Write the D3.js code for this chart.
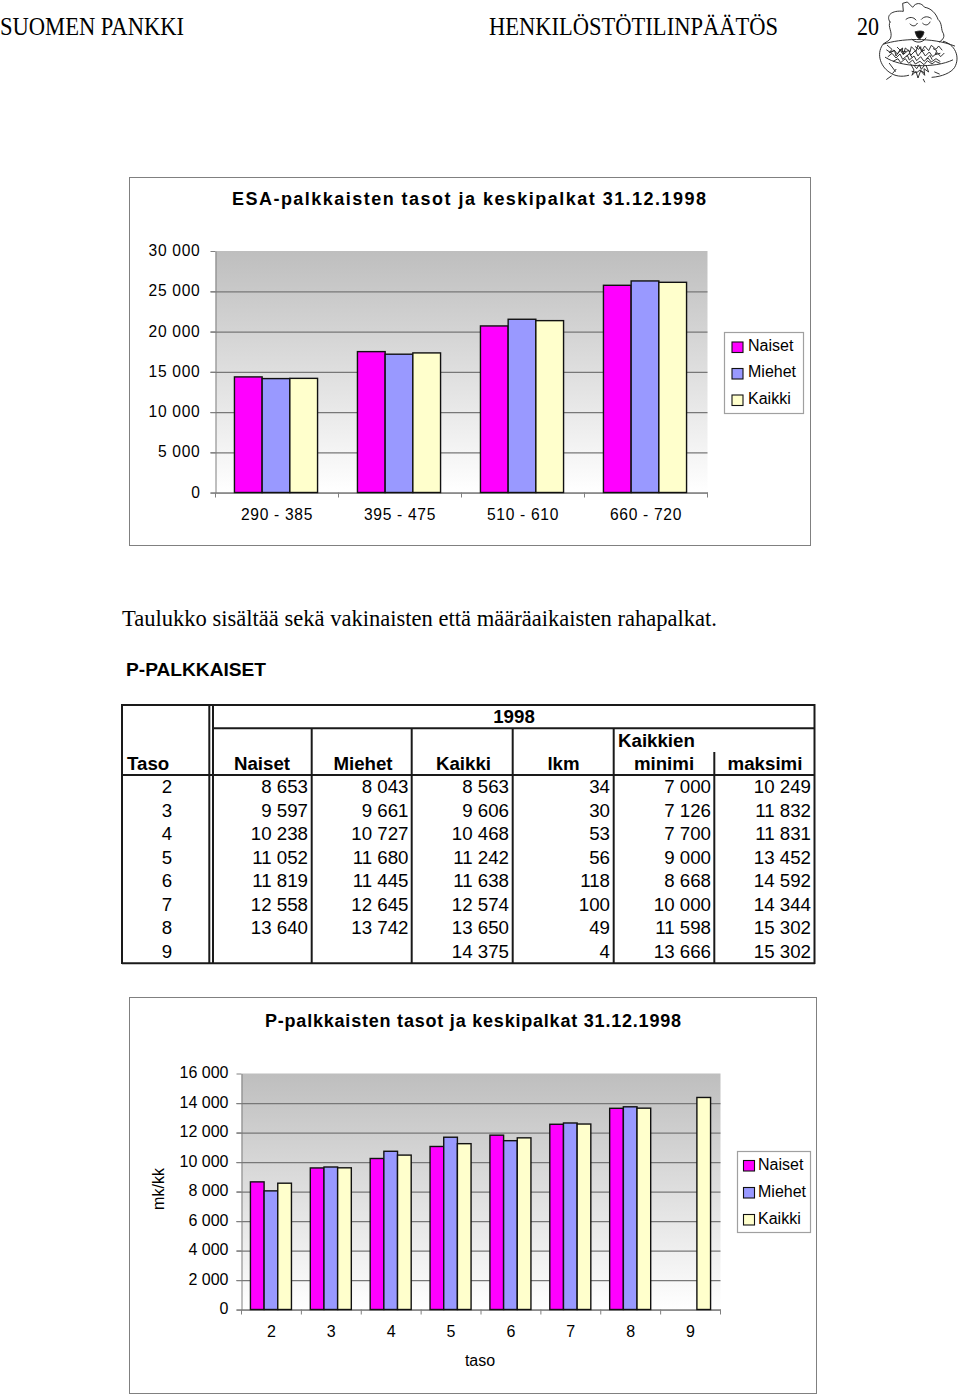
<!DOCTYPE html>
<html><head><meta charset="utf-8">
<script src="https://cdn.jsdelivr.net/npm/d3@7"></script>
<style>
html,body{margin:0;padding:0;background:#fff}
svg{display:block}
text{font-family:"Liberation Sans",Arial,sans-serif;fill:#000}
.serif{font-family:"Liberation Serif","Times New Roman",serif}
</style></head><body>
<svg id="page" width="960" height="1397"></svg>
<script>
// ---- Data: top chart (ESA-palkkaiset)
const esaCategories = ["290 - 385","395 - 475","510 - 610","660 - 720"];
const esaNaiset = [14360,17500,20690,25740];
const esaMiehet = [14150,17180,21520,26280];
const esaKaikki = [14180,17340,21350,26110];
const esaTicks = [0,5000,10000,15000,20000,25000,30000];
// ---- Data: table and bottom chart (P-palkkaiset)
const taso = [2,3,4,5,6,7,8,9];
const pNaiset = [8653,9597,10238,11052,11819,12558,13640,null];
const pMiehet = [8043,9661,10727,11680,11445,12645,13742,null];
const pKaikki = [8563,9606,10468,11242,11638,12574,13650,14375];
const pLkm = [34,30,53,56,118,100,49,4];
const pMinimi = [7000,7126,7700,9000,8668,10000,11598,13666];
const pMaksimi = [10249,11832,11831,13452,14592,14344,15302,15302];
const pTicks = [0,2000,4000,6000,8000,10000,12000,14000,16000];
const seriesNames = ["Naiset","Miehet","Kaikki"];
const seriesColors = ["#ff00ff","#9999ff","#ffffcc"];

const svg = d3.select("#page");
const fmt = d3.formatLocale({decimal:",",thousands:"\u00a0",grouping:[3],currency:["",""]}).format(",d");
const fmtS = v => v==null ? "" : fmt(v);

const defs = svg.append("defs");
const grad = defs.append("linearGradient").attr("id","plotbg").attr("x1",0).attr("y1",0).attr("x2",0).attr("y2",1);
grad.append("stop").attr("offset","0%").attr("stop-color","#bebebe");
grad.append("stop").attr("offset","100%").attr("stop-color","#ffffff");

function label(g,x,y,s,o={}){
  const t=g.append("text").attr("x",x).attr("y",y).text(s)
    .attr("font-size",o.size||16).attr("text-anchor",o.anchor||"start");
  if(o.bold)t.attr("font-weight","bold");
  if(o.serif)t.attr("class","serif");
  if(o.width)t.attr("textLength",o.width).attr("lengthAdjust",o.squeeze?"spacingAndGlyphs":"spacing");
  if(o.spacing)t.style("letter-spacing",o.spacing+"px");
  return t;
}

function barChart(o){
  const g=svg.append("g");
  g.append("rect").attr("x",o.frame[0]).attr("y",o.frame[1]).attr("width",o.frame[2]-o.frame[0]).attr("height",o.frame[3]-o.frame[1])
    .attr("fill","#fff").attr("stroke","#808080").attr("stroke-width",1);
  label(g,o.titleX,o.titleY,o.title,{size:o.titleSize,bold:true,width:o.titleW});
  const y=d3.scaleLinear().domain([0,o.max]).range([o.bottom,o.top]);
  const x=d3.scaleBand().domain(o.cats).range([o.left,o.right]);
  const x1=d3.scaleBand().domain(seriesNames).range([0,x.bandwidth()]).paddingInner(0).paddingOuter(o.po);
  g.append("rect").attr("x",o.left).attr("y",o.top).attr("width",o.right-o.left).attr("height",o.bottom-o.top).attr("fill","url(#plotbg)");
  const yAxis=g.append("g").attr("transform",`translate(${o.left},0)`)
    .call(d3.axisLeft(y).tickValues(o.ticks).tickFormat(fmtS).tickSize(0).tickPadding(o.tickPad));
  yAxis.select(".domain").attr("stroke","#808080");
  yAxis.selectAll(".tick").append("line").attr("x1",-5).attr("x2",o.right-o.left)
    .attr("stroke","#777").attr("stroke-width",1.25).attr("opacity",d=>d===o.max?0:1);
  yAxis.selectAll(".tick").append("line").attr("x1",-5).attr("x2",0).attr("stroke","#808080");
  yAxis.selectAll("text").attr("fill","#000").attr("font-size",o.tickSize).attr("font-family",'"Liberation Sans"')
    .attr("y",o.labelDy||0).style("letter-spacing",(o.spacing||0)+"px");
  const xAxis=g.append("g").attr("transform",`translate(0,${o.bottom})`)
    .call(d3.axisBottom(x).tickSize(0).tickPadding(o.catPad));
  xAxis.select(".domain").attr("stroke","#808080");
  xAxis.selectAll("text").attr("fill","#000").attr("font-size",o.tickSize).attr("font-family",'"Liberation Sans"')
    .style("letter-spacing",(o.spacing||0)+"px");
  g.append("g").selectAll("line").data(o.cats.concat([null])).join("line")
    .attr("x1",d=>d==null?o.right:x(d)).attr("x2",d=>d==null?o.right:x(d))
    .attr("y1",o.bottom).attr("y2",o.bottom+5).attr("stroke","#808080");
  o.series.forEach((vals,si)=>{
    g.append("g").selectAll("rect").data(vals.map((v,i)=>({v,c:o.cats[i]})).filter(d=>d.v!=null)).join("rect")
      .attr("x",d=>x(d.c)+x1(seriesNames[si])+o.dx)
      .attr("y",d=>y(d.v)).attr("width",x1.bandwidth()).attr("height",d=>o.bottom-y(d.v))
      .attr("fill",seriesColors[si]).attr("stroke","#111").attr("stroke-width",1.4);
  });
  const L=o.legend;
  g.append("rect").attr("x",L.x0).attr("y",L.y0).attr("width",L.x1-L.x0).attr("height",L.y1-L.y0)
    .attr("fill","#fff").attr("stroke","#a0a0a0").attr("stroke-width",1.2);
  seriesNames.forEach((n,i)=>{
    g.append("rect").attr("x",L.sx).attr("y",L.sy+i*L.step).attr("width",11).attr("height",10.5)
      .attr("fill",seriesColors[i]).attr("stroke","#111").attr("stroke-width",1.1);
    label(g,L.tx,L.sy+i*L.step+L.tdy,n,{size:16});
  });
  return g;
}

// ---- Page header
label(svg,0,35,"SUOMEN PANKKI",{size:25,serif:true,width:184,squeeze:true});
label(svg,489,35,"HENKILÖSTÖTILINPÄÄTÖS",{size:25,serif:true,width:289,squeeze:true});
label(svg,857,35,"20",{size:25,serif:true,width:22,squeeze:true});

// ---- Logo sketch
const logo=svg.append("g").attr("transform","translate(870,0) scale(0.3333)")
  .attr("fill","none").attr("stroke","#222").attr("stroke-width",2.8).attr("stroke-linecap","round").attr("stroke-linejoin","round");
[
 "M60 66 C46 46 66 30 100 34 L98 10 L112 6 L128 22 C138 6 154 8 164 22 C182 24 198 40 204 58 C218 70 212 90 220 100 C226 114 214 122 208 126",
 "M60 66 C52 80 68 94 62 114 C58 124 46 126 40 132",
 "M40 132 C20 154 26 196 60 218 C74 228 94 232 116 226",
 "M220 124 C254 132 272 170 254 202 C244 218 216 230 186 232",
 "M42 132 C90 116 184 110 254 138",
 "M46 172 C90 202 194 206 248 180",
 "M108 58 C118 50 130 50 138 60","M154 58 C162 48 176 48 184 56",
 "M120 72 C128 80 136 80 142 70","M158 70 C166 78 176 76 180 66",
 "M126 118 C136 130 158 130 168 114",
 "M52 136 l14 12 l-8 10 l16 -6 l4 16 l12 -18 l10 14 l6 -20 l14 12 l4 -16 l14 14 l6 -18 l12 16 l8 -14 l12 14 l8 -16 l14 12 l8 -10 l10 12",
 "M50 150 l12 8 l10 -8 l10 12 l12 -14 l8 14 l14 -12 l6 16 l14 -14 l8 16 l12 -16 l10 16 l12 -12 l10 14 l14 -12 l10 12 l10 -10",
 "M54 170 l12 -10 l12 14 l12 -12 l8 16 l14 -12 l6 14 l14 -12 l8 14 l12 -12 l10 14 l12 -10 l10 12 l14 -10 l12 8",
 "M70 184 l14 -8 l8 12 l14 -12 l10 14 l12 -10 l8 12 l14 -8 l12 10 l10 -12 l14 10 l10 -8 l14 6",
 "M82 142 l8 8 l8 -6 l-2 12 l12 -2 M136 140 l10 8 l6 -8 l2 14 l10 -4 M190 146 l10 6 l-4 12 l14 -4 M110 170 l8 -10 l8 12 M170 176 l10 -10 l6 12",
 "M122 192 l10 18 l-6 16 l12 -12 l6 20 l8 -22 l12 14 l-2 -20 l14 10 l-8 -20",
 "M132 196 l8 10 l8 -12 l6 14 l8 -10 M126 214 l14 4 l10 -8 l12 8",
 "M58 190 l18 24 M50 238 l14 -10 M78 208 l-10 12 M194 216 l14 6 M160 238 l4 8"
].forEach(d=>logo.append("path").attr("d",d));
logo.append("path").attr("d","M136 96 C144 92 156 92 162 96 C160 108 152 116 148 116 C142 114 138 106 136 96 Z").attr("fill","#111");

// ---- Top chart
barChart({frame:[129.5,177.5,810.5,545.5],title:"ESA-palkkaisten tasot ja keskipalkat 31.12.1998",titleX:232,titleY:205,titleSize:18,titleW:474,
  cats:esaCategories,series:[esaNaiset,esaMiehet,esaKaikki],ticks:esaTicks,max:30000,
  left:215.5,right:707.5,top:251,bottom:492.5,po:0.72,dx:-1,tickSize:15.6,spacing:0.7,tickPad:15,catPad:16.5,labelDy:-0.5,
  legend:{x0:724.5,x1:803.5,y0:332.5,y1:413.5,sx:732,sy:342,step:26.5,tx:748,tdy:8.7}});
label(svg,122,626,"Taulukko sisältää sekä vakinaisten että määräaikaisten rahapalkat.",{size:22.5,serif:true,width:595,squeeze:true});
label(svg,126,676,"P-PALKKAISET",{size:18.7,bold:true,width:140,squeeze:true});

// ---- Table
const colRight=[308,408.5,509,610,711,811];
const colCenter=[262,363,463.5,563.5,664,765];
const colHeads=["Naiset","Miehet","Kaikki","lkm","minimi","maksimi"];
const colVals=[pNaiset,pMiehet,pKaikki,pLkm,pMinimi,pMaksimi];
const tg=svg.append("g");
const rowY=d3.scaleBand().domain(taso).range([775,963.3]);
function tl(x1,y1,x2,y2){tg.append("line").attr("x1",x1).attr("y1",y1).attr("x2",x2).attr("y2",y2).attr("stroke","#1a1a1a").attr("stroke-width",2);}
[[122,705,815,705],[122,963.3,815,963.3],[122,775,815,775],[213,728.3,815,728.3],
 [122,704,122,964],[814.5,704,814.5,964],[209.3,705,209.3,963],[213,705,213,963],
 [311.7,728,311.7,963],[411.7,728,411.7,963],[512.7,728,512.7,963],[613.7,728,613.7,963],[714.3,752,714.3,963]
].forEach(a=>tl(...a));
label(tg,514,723,"1998",{size:18.7,bold:true,anchor:"middle"});
label(tg,618,747,"Kaikkien",{size:18.7,bold:true});
label(tg,127,770,"Taso",{size:18.7,bold:true});
colHeads.forEach((h,i)=>label(tg,colCenter[i],770,h,{size:18.7,bold:true,anchor:"middle"}));
taso.forEach((t,r)=>{
  const by=rowY(t)+rowY.bandwidth()/2+6.5;
  label(tg,167,by,t,{size:18.7,anchor:"middle"});
  colVals.forEach((c,i)=>label(tg,colRight[i],by,fmtS(c[r]),{size:18.7,anchor:"end"}));
});

// ---- Bottom chart
const g2=barChart({frame:[129.5,997.5,816.5,1393.5],title:"P-palkkaisten tasot ja keskipalkat 31.12.1998",titleX:265,titleY:1027,titleSize:18,titleW:416,
  cats:taso,series:[pNaiset,pMiehet,pKaikki],ticks:pTicks,max:16000,
  left:241.5,right:720.5,top:1073.5,bottom:1309.5,po:0.69,dx:-0.5,tickSize:16,spacing:0,tickPad:13,catPad:16,labelDy:-1,
  legend:{x0:737.5,x1:810.5,y0:1151.5,y1:1232.5,sx:743.5,sy:1160.5,step:27,tx:758,tdy:9.5}});
label(g2,480,1366,"taso",{size:16,anchor:"middle"});
label(g2,0,0,"mk/kk",{size:16,anchor:"middle"}).attr("transform","translate(164,1189) rotate(-90)");
</script>
</body></html>
